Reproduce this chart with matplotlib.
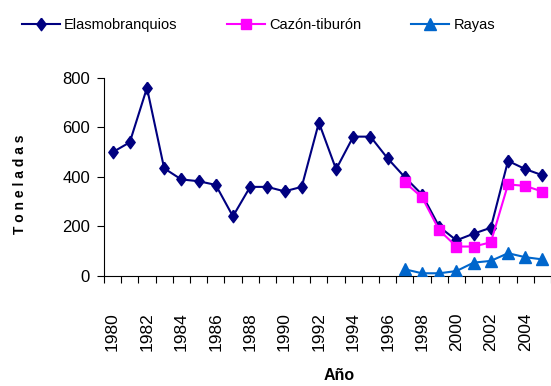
import numpy as np
import matplotlib
matplotlib.use("Agg")
import matplotlib.pyplot as plt

plt.rcParams['font.family'] = ['Liberation Sans', 'DejaVu Sans']

years = list(range(1980, 2006))
elasmo = [500, 540, 760, 435, 390, 383, 368, 241, 360, 360, 342, 360,
          620, 431, 563, 563, 475, 399, 329, 199, 144, 171, 195, 465, 432, 407]
cazon_years = list(range(1997, 2006))
cazon = [378, 318, 185, 119, 119, 136, 370, 364, 341]
rayas_years = list(range(1997, 2006))
rayas = [27, 11, 11, 20, 54, 61, 92, 76, 67]

year_labels = [str(y) for y in range(1980, 2006, 2)]

c_elasmo = "#000080"
c_cazon = "#FF00FF"
c_rayas = "#0066CC"

diamond = [(0, 1), (0.75, 0), (0, -1), (-0.75, 0), (0, 1)]

fig = plt.figure(figsize=(5.51, 3.86), dpi=100)
ax = fig.add_axes([0.1887, 0.285, 0.8113, 0.513])

x_el = np.array(years) - 1980
x_ca = np.array(cazon_years) - 1980
x_ra = np.array(rayas_years) - 1980

ax.plot(x_el, elasmo, color=c_elasmo, lw=1.5, marker=diamond, ms=9,
        label="Elasmobranquios", zorder=3)
ax.plot(x_ca, cazon, color=c_cazon, lw=1.5, marker="s", ms=7,
        label="Cazón-tiburón", zorder=4)
ax.plot(x_ra, rayas, color=c_rayas, lw=1.5, marker="^", ms=8,
        label="Rayas", zorder=5)

ax.set_xlim(-0.5, 25.29)
ax.set_ylim(0, 800)
ax.set_yticks([0, 200, 400, 600, 800])

# years centred in their category, ticks on the category edges
ax.set_xticks(np.arange(0, 26, 2))
ax.set_xticklabels(year_labels, rotation=90)
ax.set_xticks(np.arange(-0.5, 26, 1), minor=True)
ax.tick_params(axis="x", which="major", length=0, pad=26, labelsize=12.5)
ax.tick_params(axis="x", which="minor", length=5, width=0.8, direction="out")
ax.tick_params(axis="y", length=5, width=0.8, pad=5, labelsize=12)

ax.spines["top"].set_visible(False)
ax.spines["right"].set_visible(False)
ax.spines["left"].set_linewidth(0.8)
ax.spines["bottom"].set_linewidth(0.8)

fig.text(20 / 551, 1 - 184 / 386, "T o n e l a d a s", rotation=90,
         fontsize=10, fontweight="bold", ha="center", va="center")
fig.text(339 / 551, 1 - 375 / 386, "Año", fontsize=11.5,
         fontweight="bold", ha="center", va="center")

fig.legend(loc="center", bbox_to_anchor=(0.469, 1 - 25 / 386), ncol=3,
           frameon=False, fontsize=10.5, handlelength=2.6,
           handletextpad=0.3, columnspacing=3.4)

fig.savefig("out.png", dpi=100)
